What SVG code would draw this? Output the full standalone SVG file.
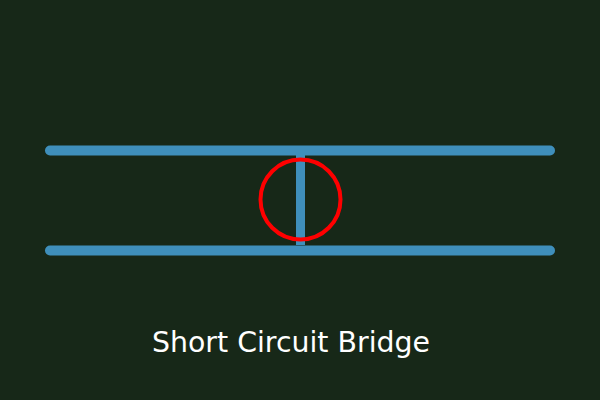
<svg xmlns="http://www.w3.org/2000/svg" width="600" height="400" viewBox="0 0 600 400">
<style>
.wire{stroke:#3f8fbb;stroke-width:10;stroke-linecap:round;fill:none}
.bridge{stroke:#3f8fbb;stroke-width:9;fill:none}
.mark{stroke:#ff0000;stroke-width:4;fill:none}
.label{fill:#ffffff;font-family:"DejaVu Sans","Liberation Sans",sans-serif;font-size:28px}
</style>
<rect width="600" height="400" fill="#172818"/>
<g id="connectors">
<line class="wire" x1="50" y1="150.5" x2="550" y2="150.5"/>
<line class="wire" x1="50" y1="250.5" x2="550" y2="250.5"/>
<line class="bridge" x1="300.5" y1="155" x2="300.5" y2="245"/>
</g>
<g id="short-marker">
<circle class="mark" cx="300.5" cy="199.5" r="40"/>
</g>
<g id="caption">
<text class="label" x="291" y="352" text-anchor="middle" textLength="278" lengthAdjust="spacingAndGlyphs">Short Circuit Bridge</text>
</g>
</svg>
